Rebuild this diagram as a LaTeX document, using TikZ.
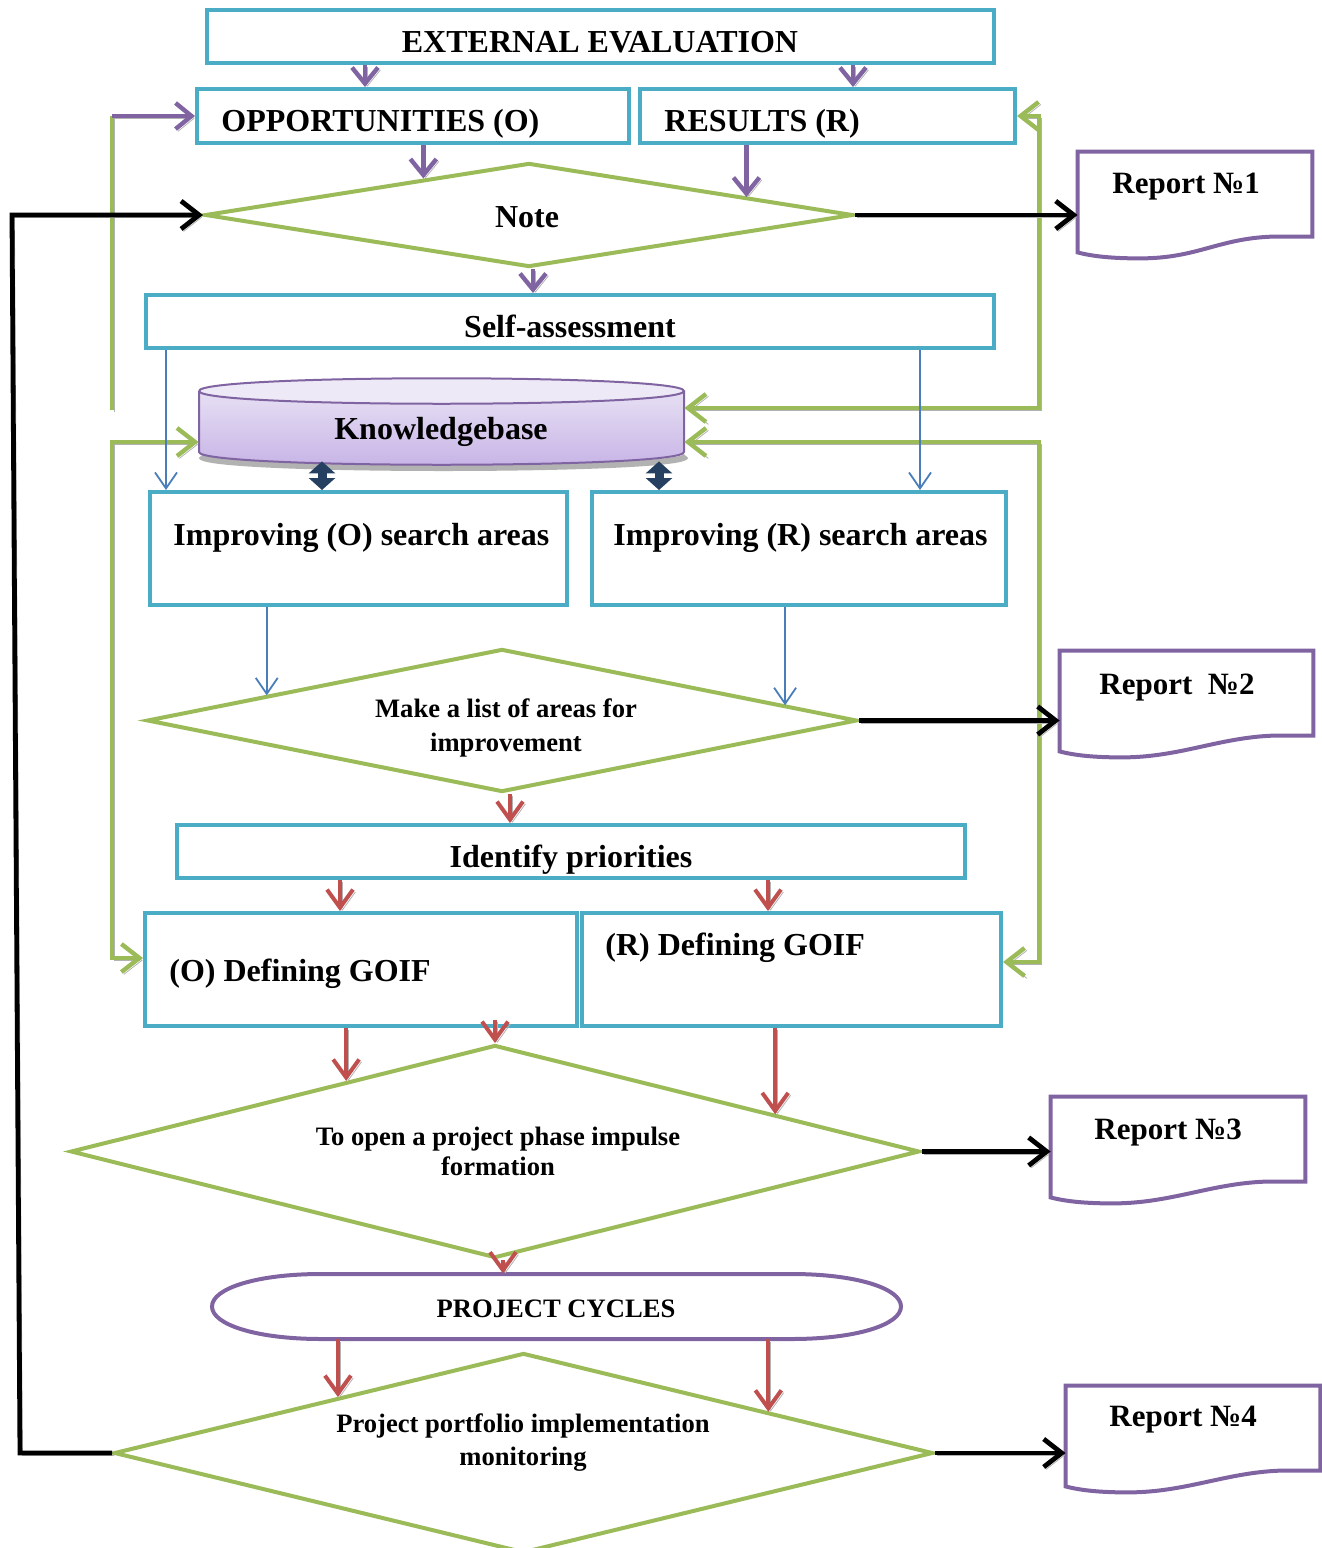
\documentclass[tikz,border=0pt]{standalone}
\usepackage{fontspec}
\setmainfont{Liberation Serif}
\usetikzlibrary{arrows.meta,calc,shapes.geometric}

\definecolor{cAqua}{HTML}{4BACC6}
\definecolor{cLeaf}{HTML}{9BBB59}
\definecolor{cPlum}{HTML}{8064A2}
\definecolor{cBrick}{HTML}{C0504D}
\definecolor{cSky}{HTML}{4A7EBB}
\definecolor{cNavy}{HTML}{254061}
\definecolor{kbTop}{HTML}{EEE9F7}
\definecolor{kbBot}{HTML}{C6B3E6}

% document shape with wavy bottom, drawn round a named node
\newcommand{\reportwave}[1]{%
  \draw[cPlum, line width=2pt] (#1.north west) -- (#1.north east)
    -- ($(#1.north east)+(0,85)$) -- ($(#1.north east)+(-40,85)$)
    .. controls ($(#1.north east)+(-95,87)$) and ($(#1.south west)+(120,6)$) .. ($(#1.south west)+(62,6)$)
    .. controls ($(#1.south west)+(35,6)$) and ($(#1.south west)+(15,4)$) .. (#1.south west) -- cycle;}

\begin{document}
\begin{tikzpicture}[x=0.5pt, y=-0.5pt,
    box/.style = {draw=cAqua, line width=2pt, inner sep=0pt},
    dia/.style = {diamond, draw=cLeaf, line width=2pt, inner sep=0pt},
    doc/.style = {inner sep=0pt, minimum height=50pt},
    big/.style = {font=\bfseries\fontsize{16}{19}\selectfont, inner sep=0pt},
    rep/.style = {font=\bfseries\fontsize{15.5}{18}\selectfont, inner sep=0pt, anchor=base west},
    castshadow/.style = {preaction={draw=black!30, transform canvas={xshift=1.2pt, yshift=-1.2pt}}},
    plumarrow/.style = {draw=cPlum, line width=2.2pt, -{Straight Barb[length=8pt,width=13pt]}, castshadow},
    leafpath/.style = {draw=cLeaf, line width=2.2pt, castshadow},
    leafarrows/.style = {leafpath, {Straight Barb[length=9pt,width=14pt]}-{Straight Barb[length=9pt,width=14pt]}},
    skyarrow/.style = {draw=cSky, line width=0.9pt, -{Straight Barb[length=8pt,width=11pt]}},
    navyarrow/.style = {draw=cNavy, line width=4.5pt, {Triangle[length=6pt,width=13pt]}-{Triangle[length=6pt,width=13pt]}},
    brickarrow/.style = {draw=cBrick, line width=2pt, -{Straight Barb[length=9pt,width=13pt]}, castshadow},
    blackarrow/.style = {draw=black, line width=2.4pt, -{Straight Barb[length=9pt,width=14pt]}, castshadow}]

    \useasboundingbox (0,0) rectangle (1322,1548);

    % boxes
    \node[box, minimum width=393.5pt, minimum height=26.5pt] (ext) at (600.5,36.5) {};
    \node[box, minimum width=216pt, minimum height=27pt] (opp) at (413,116) {};
    \node[box, minimum width=187.5pt, minimum height=27pt] (res) at (827.5,116) {};
    \node[box, minimum width=424pt, minimum height=26.5pt] (self) at (570,321.5) {};
    \node[box, minimum width=208.5pt, minimum height=56.5pt] (impO) at (358.5,548.5) {};
    \node[box, minimum width=207pt, minimum height=56.5pt] (impR) at (799,548.5) {};
    \node[box, minimum width=394pt, minimum height=26.5pt] (ident) at (571,851.5) {};
    \node[box, minimum width=216pt, minimum height=56.5pt] (goifO) at (361,969.5) {};
    \node[box, minimum width=209.5pt, minimum height=56.5pt] (goifR) at (791.5,969.5) {};

    % decisions
    \node[dia, minimum width=324pt, minimum height=52pt] (note) at (529,215) {};
    \node[dia, minimum width=355pt, minimum height=71.5pt] (list) at (502,720.5) {};
    \node[dia, minimum width=424.5pt, minimum height=106.5pt] (open) at (495,1151.5) {};
    \node[dia, minimum width=409.5pt, minimum height=100pt] (port) at (523.5,1453) {};

    % points where arrows meet the slanted sides
    \coordinate (noteL) at ($(note.north)!0.324!(note.west)$);
    \coordinate (noteR) at ($(note.north)!0.667!(note.east)$);
    \coordinate (listL) at ($(list.north)!0.659!(list.west)$);
    \coordinate (listR) at ($(list.north)!0.793!(list.east)$);
    \coordinate (openL) at ($(open.north)!0.349!(open.west)$);
    \coordinate (openR) at ($(open.north)!0.657!(open.east)$);
    \coordinate (portL) at ($(port.north)!0.451!(port.west)$);
    \coordinate (portR) at ($(port.north)!0.595!(port.east)$);

    % knowledgebase
    \node[inner sep=0pt, minimum width=242.5pt, minimum height=43.5pt] (kb) at (441.5,421.5) {};
    \draw[black!30, line width=3pt] (201,456) .. controls (201,472) and (686,472) .. (686,456);
    \shade[top color=kbTop, bottom color=kbBot] (199,391) -- (199,452) .. controls (199,469) and (684,469) .. (684,452)
        -- (684,391) .. controls (684,374) and (199,374) .. (199,391) -- cycle;
    \fill[kbTop] (199,391) .. controls (199,374) and (684,374) .. (684,391) .. controls (684,408) and (199,408) .. (199,391);
    \draw[cPlum, line width=1pt] (199,391) -- (199,452) .. controls (199,469) and (684,469) .. (684,452) -- (684,391);
    \draw[cPlum, line width=1pt] (199,391) .. controls (199,374) and (684,374) .. (684,391) .. controls (684,408) and (199,408) .. (199,391);

    % project cycles
    \node[inner sep=0pt, minimum width=344.5pt, minimum height=32.5pt] (pc) at (556.5,1306.5) {};
    \draw[cPlum, line width=2pt] (321,1274) -- (792,1274) .. controls (855,1274) and (901,1288) .. (901,1306.5)
        .. controls (901,1325) and (855,1339) .. (792,1339) -- (321,1339)
        .. controls (258,1339) and (212,1325) .. (212,1306.5) .. controls (212,1288) and (258,1274) .. (321,1274) -- cycle;

    % reports
    \node[doc, minimum width=117pt] (r1) at (1195,202) {};
    \node[doc, minimum width=126.5pt] (r2) at (1186.5,701) {};
    \node[doc, minimum width=127pt] (r3) at (1178,1147) {};
    \node[doc, minimum width=127pt] (r4) at (1193,1436) {};
    \reportwave{r1}
    \reportwave{r2}
    \reportwave{r3}
    \reportwave{r4}

    % texts
    \node[big, anchor=base] (extT) at (600,52) {EXTERNAL EVALUATION};
    \node[big, anchor=base west] (oppT) at (221,131) {OPPORTUNITIES (O)};
    \node[big, anchor=base west] (resT) at (664,131) {RESULTS (R)};
    \node[big, anchor=base] (noteT) at (527,227) {Note};
    \node[big, anchor=base] (selfT) at (570,337) {Self-assessment};
    \node[big, anchor=base] (kbT) at (441,439) {Knowledgebase};
    \node[big, anchor=base west] (impOT) at (173,545) {Improving (O) search areas};
    \node[big, anchor=base west] (impRT) at (613,545) {Improving (R) search areas};
    \node[inner sep=0pt, align=center, font=\bfseries\fontsize{13.3}{17}\selectfont] (listT) at (506,728) {Make a list of areas for\\improvement};
    \node[big, anchor=base] (identT) at (571,867) {Identify priorities};
    \node[big, anchor=base west] (goifOT) at (169,981) {(O) Defining GOIF};
    \node[big, anchor=base west] (goifRT) at (605,955) {(R) Defining GOIF};
    \node[inner sep=0pt, align=center, font=\bfseries\fontsize{13.3}{15.25}\selectfont] (openT) at (498,1151.5) {To open a project phase impulse\\formation};
    \node[inner sep=0pt, anchor=base, font=\bfseries\fontsize{13.3}{16}\selectfont] (pcT) at (556,1317) {PROJECT CYCLES};
    \node[inner sep=0pt, align=center, font=\bfseries\fontsize{13.3}{16.5}\selectfont] (portT) at (523,1443) {Project portfolio implementation\\monitoring};
    \node[rep] (r1T) at (1112,193) {Report №1};
    \node[rep] (r2T) at (1099,694) {Report\ \ №2};
    \node[rep] (r3T) at (1094,1139) {Report №3};
    \node[rep] (r4T) at (1109,1426) {Report №4};

    % purple arrows
    \draw[plumarrow] (ext.south -| 365,0) -- (opp.north -| 365,0);
    \draw[plumarrow] (ext.south -| 853,0) -- (res.north -| 853,0);
    \draw[plumarrow] (opp.south -| noteL) -- (noteL);
    \draw[plumarrow] (res.south -| noteR) -- (noteR);
    \draw[plumarrow] ([xshift=2pt]note.south) -- ([xshift=2pt]note.south |- self.north);

    % green feedback lines
    \coordinate (gtop) at (112,410);
    \draw[leafpath] (gtop) -- (gtop |- opp.west);
    \draw[plumarrow] (gtop |- opp.west) -- (opp.west);
    \draw[leafarrows] ([yshift=6.75pt]kb.east) -- (1039,408) |- (res.east);
    \draw[leafarrows] ([yshift=-10.25pt]kb.east) -- (1039,442) |- ([yshift=3.75pt]goifR.east);
    \draw[leafarrows] ([yshift=-10.25pt]kb.west) -- (112,442) |- ([yshift=5.75pt]goifO.west);

    % blue arrows
    \draw[skyarrow] (self.south -| 166,0) -- (impO.north -| 166,0);
    \draw[skyarrow] (self.south -| 920,0) -- (impR.north -| 920,0);
    \draw[skyarrow] (impO.south -| listL) -- (listL);
    \draw[skyarrow] (impR.south -| listR) -- (listR);

    % knowledgebase links
    \draw[navyarrow] ([yshift=2pt]kb.south -| 322,0) -- (impO.north -| 322,0);
    \draw[navyarrow] ([yshift=2pt]kb.south -| 659,0) -- (impR.north -| 659,0);

    % red arrows
    \draw[brickarrow] ([xshift=4pt]list.south) -- ([xshift=4pt]list.south |- ident.north);
    \draw[brickarrow] (ident.south -| 340,0) -- (goifO.north -| 340,0);
    \draw[brickarrow] (ident.south -| 768,0) -- (goifR.north -| 768,0);
    \draw[brickarrow] (goifO.south -| openL) -- (openL);
    \draw[brickarrow] ([yshift=4pt]goifO.south -| open.north) -- (open.north);
    \draw[brickarrow] (goifR.south -| openR) -- (openR);
    \draw[brickarrow] ([xshift=4pt]open.south) -- ([xshift=4pt]open.south |- pc.north);
    \draw[brickarrow] (pc.south -| portL) -- (portL);
    \draw[brickarrow] (pc.south -| portR) -- (portR);

    % black arrows to reports
    \draw[blackarrow] (note.east) -- (r1.west |- note.east);
    \draw[blackarrow] (list.east) -- (r2.west |- list.east);
    \draw[blackarrow] (open.east) -- (r3.west |- open.east);
    \draw[blackarrow] (port.east) -- (r4.west |- port.east);

    % loop back
    \coordinate (loopbot) at (20,1453);
    \coordinate (looptop) at (12,215);
    \draw[blackarrow] (port.west) -- (loopbot) -- (looptop) -- (note.west);
\end{tikzpicture}
\end{document}
